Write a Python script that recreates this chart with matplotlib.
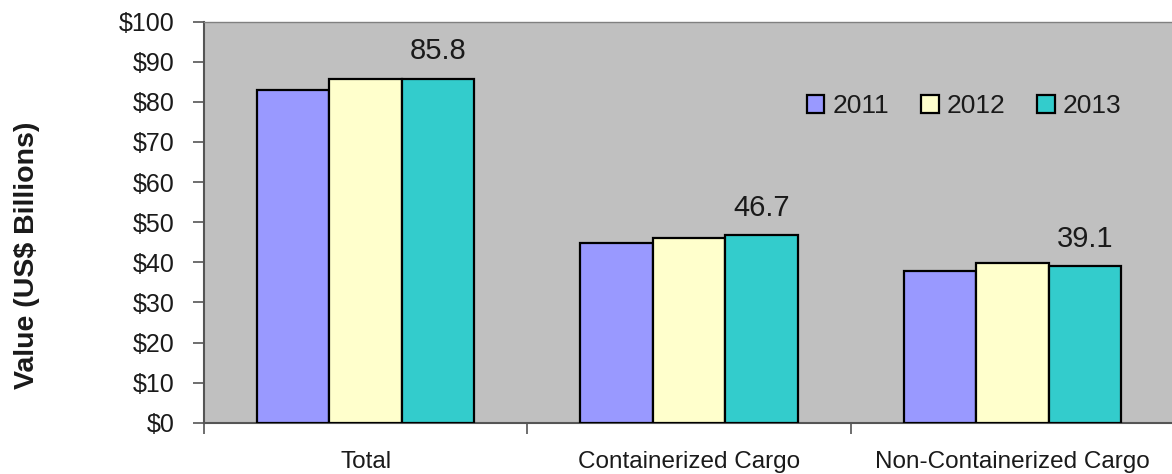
import numpy as np
import matplotlib
matplotlib.use("Agg")
import matplotlib.pyplot as plt
from matplotlib.ticker import FixedLocator, FuncFormatter

plt.rcParams['font.family'] = ['Liberation Sans', 'DejaVu Sans']

categories = ["Total", "Containerized Cargo", "Non-Containerized Cargo"]
years = ["2011", "2012", "2013"]
values_2011 = [82.9, 44.9, 37.9]
values_2012 = [85.7, 46.0, 39.8]
values_2013 = [85.8, 46.7, 39.1]
series = [values_2011, values_2012, values_2013]
colors = ["#9999FF", "#FFFFCC", "#33CCCC"]

fig = plt.figure(figsize=(11.72, 4.74), dpi=100)
ax = fig.add_axes([0.174, 0.108, 0.828, 0.8465])
ax.set_facecolor("#C0C0C0")

x = np.arange(len(categories))
width = 0.224
for i, (vals, col, yr) in enumerate(zip(series, colors, years)):
    ax.bar(x + (i - 1) * width, vals, width, color=col, edgecolor="black",
           linewidth=1.6, label=yr, zorder=3)

# value labels above the 2013 bars
for xi, v in zip(x, values_2013):
    ax.annotate(f"{v:.1f}", (xi + width, v), xytext=(0, 19.5),
                textcoords="offset points", ha="center", va="center",
                fontsize=21, color="#1a1a1a")

ax.set_xlim(-0.5, len(categories) - 0.5)
ax.set_ylim(0, 100)

ax.yaxis.set_major_locator(FixedLocator(np.arange(0, 101, 10)))
ax.yaxis.set_major_formatter(FuncFormatter(lambda v, p: f"${v:.0f}"))
ax.tick_params(axis="y", direction="out", length=8, width=1.2, color="#555555",
               labelsize=18, pad=13, labelcolor="#1a1a1a")

ax.set_xticks(x)
ax.set_xticklabels(categories)
ax.set_xticks(np.arange(-0.5, len(categories), 1.0), minor=True)
ax.tick_params(axis="x", which="major", length=0, pad=20, labelsize=17.5,
               labelcolor="#1a1a1a")
ax.tick_params(axis="x", which="minor", direction="out", length=8, width=1.2,
               color="#555555")

for side in ["left", "bottom"]:
    ax.spines[side].set_color("#555555")
    ax.spines[side].set_linewidth(1.5)
ax.spines["top"].set_color("#808080")
ax.spines["top"].set_linewidth(1.0)
ax.spines["right"].set_visible(False)

fig.text(27 / 1172, 0.462, "Value (US$ Billions)", rotation=90, ha="center",
         va="center", fontsize=20.5, fontweight="bold", color="#1a1a1a")

leg = ax.legend(loc="center", bbox_to_anchor=(0.8225, 0.7764),
                bbox_transform=fig.transFigure, ncol=3, frameon=False,
                fontsize=19, handlelength=0.68, handleheight=0.68,
                handletextpad=0.3, columnspacing=1.2, borderpad=0)
for t in leg.get_texts():
    t.set_color("#1a1a1a")

fig.savefig("out.png", dpi=100)
